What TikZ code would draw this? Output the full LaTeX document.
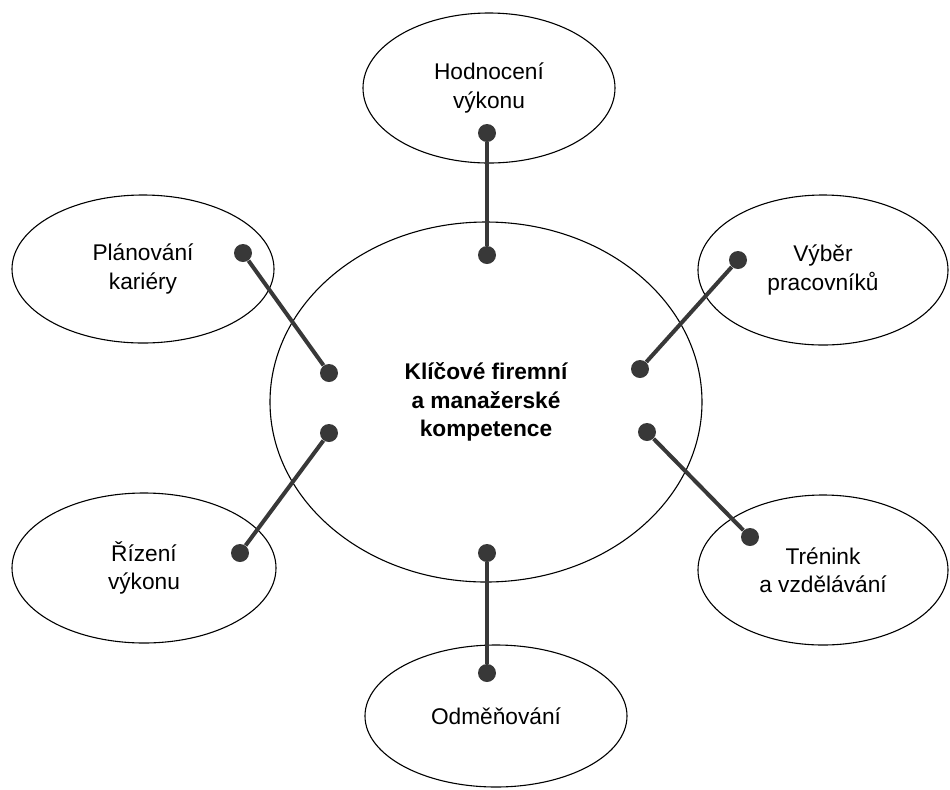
\documentclass[tikz,border=0pt]{standalone}
\usepackage{fontspec}
\setmainfont{Liberation Sans}
\usetikzlibrary{shapes.geometric}
\begin{document}
\begin{tikzpicture}[x=0.5pt,y=-0.5pt,
        area/.style={draw,ellipse,line width=0.55pt,inner sep=0pt,align=center,
            minimum width=126pt,minimum height=75pt,font=\fontsize{11.35}{14.25}\selectfont},
        pin/.style={circle,fill=black!78,inner sep=0pt,minimum size=9pt},
        link/.style={line width=2pt,black!78}]
        \useasboundingbox (0,0) rectangle (950,789);
        \node[area,minimum width=216pt,minimum height=180pt,font=\fontsize{11.35}{14.25}\selectfont\bfseries] (core) at (486,402) {Klíčové firemní\\a manažerské\\kompetence};
        \node[area] (hodnoceni) at (489,88) {Hodnocení\\výkonu};
        \node[area,minimum width=131pt,minimum height=74pt] (planovani) at (143,269) {Plánování\\kariéry};
        \node[area,minimum width=125pt] (vyber) at (823,270) {Výběr\\pracovníků};
        \node[area,minimum width=132pt] (rizeni) at (144,568) {Řízení\\výkonu};
        \node[area,minimum width=125pt] (trenink) at (823,570) {Trénink\\a vzdělávání};
        \node[area,minimum width=131pt,minimum height=71pt] (odmenovani) at (496,716) {Odměňování};
        % tecky na spojnicich
        \node[pin] (hodnoceni-pin) at (487,133) {};
        \node[pin] (core-n) at (487,255) {};
        \node[pin] (planovani-pin) at (243,253) {};
        \node[pin] (core-nw) at (329,373) {};
        \node[pin] (vyber-pin) at (738,260) {};
        \node[pin] (core-ne) at (640,369) {};
        \node[pin] (rizeni-pin) at (240,553) {};
        \node[pin] (core-sw) at (329,433) {};
        \node[pin] (trenink-pin) at (750,537) {};
        \node[pin] (core-se) at (647,432) {};
        \node[pin] (odmenovani-pin) at (487,673) {};
        \node[pin] (core-s) at (487,553) {};
        \draw[link] (hodnoceni-pin)--(core-n);
        \draw[link] (planovani-pin)--(core-nw);
        \draw[link] (vyber-pin)--(core-ne);
        \draw[link] (rizeni-pin)--(core-sw);
        \draw[link] (trenink-pin)--(core-se);
        \draw[link] (odmenovani-pin)--(core-s);
    \end{tikzpicture}
\end{document}
